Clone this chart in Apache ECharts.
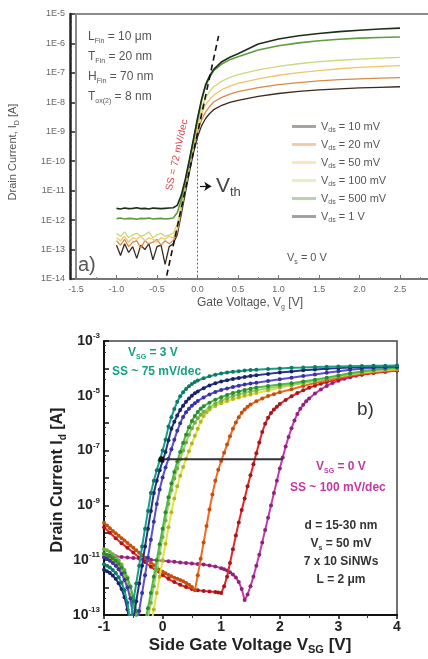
<!DOCTYPE html>
<html>
<head>
<meta charset="utf-8">
<script src="https://cdn.jsdelivr.net/npm/echarts@6/dist/echarts.min.js"></script>
<style>
  html, body { margin: 0; padding: 0; background: #ffffff; }
  #chart { width: 428px; height: 659px; }
</style>
</head>
<body>
<div id="chart"></div>
<script>
// ---------- (a) FinFET transfer characteristics, log10 of I_D [A] ----------
const gateV = [-1.0,-0.95,-0.9,-0.85,-0.8,-0.75,-0.7,-0.65,-0.6,-0.55,-0.5,-0.45,-0.4,-0.35,-0.3,
  -0.25,-0.2,-0.15,-0.1,-0.05,0,0.05,0.1,0.15,0.2,0.3,0.4,0.5,0.75,1.0,1.25,1.5,1.75,2.0,2.25,2.5];
const vdsNames = ['10 mV', '20 mV', '50 mV', '100 mV', '500 mV', '1 V'];
const vdsColors = ['#3a2a1c', '#d98a45', '#f2c46c', '#cbd87c', '#5f9c3e', '#1d2e1b'];
const logId10mV = [-12.85,-13.2,-12.8,-13.1,-12.9,-13.3,-12.85,-13.0,-12.8,-13.35,-12.9,-12.85,-13.5,-12.9,-12.8,
  -12.5,-11.8,-11.08,-10.38,-9.72,-9.18,-8.8,-8.55,-8.38,-8.25,-8.1,-8.0,-7.93,-7.8,-7.7,-7.63,-7.58,-7.54,-7.51,-7.49,-7.47];
const logId20mV = [-12.7,-12.85,-12.65,-12.9,-12.75,-12.7,-12.95,-12.7,-12.8,-12.75,-12.65,-12.85,-12.7,-12.8,-12.7,
  -12.4,-11.65,-10.95,-10.25,-9.58,-9.02,-8.6,-8.33,-8.14,-7.99,-7.83,-7.72,-7.64,-7.5,-7.4,-7.33,-7.27,-7.23,-7.2,-7.18,-7.16];
const logId50mV = [-12.6,-12.7,-12.55,-12.75,-12.6,-12.65,-12.55,-12.7,-12.6,-12.65,-12.75,-12.6,-12.65,-12.55,-12.6,
  -12.3,-11.55,-10.85,-10.15,-9.48,-8.85,-8.38,-8.08,-7.9,-7.76,-7.57,-7.45,-7.36,-7.2,-7.08,-6.99,-6.92,-6.86,-6.81,-6.78,-6.75];
const logId100mV = [-12.45,-12.55,-12.4,-12.6,-12.5,-12.45,-12.55,-12.5,-12.4,-12.6,-12.5,-12.45,-12.55,-12.5,-12.45,
  -12.15,-11.45,-10.78,-10.08,-9.4,-8.75,-8.2,-7.85,-7.63,-7.47,-7.28,-7.15,-7.06,-6.9,-6.78,-6.69,-6.62,-6.57,-6.53,-6.5,-6.47];
const logId500mV = [-11.95,-11.93,-11.96,-11.94,-11.95,-11.97,-11.94,-11.95,-11.93,-11.96,-11.95,-11.94,-11.96,-11.95,-11.93,
  -11.75,-11.3,-10.68,-10.0,-9.3,-8.6,-7.95,-7.45,-7.15,-6.92,-6.7,-6.55,-6.45,-6.22,-6.08,-5.98,-5.91,-5.86,-5.82,-5.8,-5.78];
const logId1V = [-11.6,-11.62,-11.59,-11.61,-11.6,-11.58,-11.61,-11.6,-11.62,-11.59,-11.6,-11.61,-11.6,-11.59,-11.58,
  -11.5,-11.15,-10.6,-9.95,-9.25,-8.55,-7.9,-7.4,-7.1,-6.88,-6.62,-6.47,-6.35,-6.02,-5.85,-5.74,-5.66,-5.6,-5.55,-5.51,-5.48];
const logIdByVds = [logId10mV, logId20mV, logId50mV, logId100mV, logId500mV, logId1V];
// subthreshold-slope guide line (SS = 72 mV/dec) and threshold marker
const ssGuide = [[-0.38, 1.3e-14], [0.26, 1.8e-6]];
const vthGuide = [[0, 1.5e-9], [0, 1e-14]];
const vthArrow = [[0.03, 1.4e-11], [0.17, 1.4e-11]];

// ---------- (b) side-gated SiNW transfer curves, [V_G, log10 I_d] ----------
const sgTeal = [[-1,-11.15],[-0.95,-11.2],[-0.9,-11.27],[-0.85,-11.36],[-0.8,-11.47],[-0.75,-11.62],[-0.7,-11.82],[-0.65,-12.1],[-0.6,-12.55],[-0.55,-13.3],
  [-0.5,-12.5],[-0.45,-11.85],[-0.4,-11.2],[-0.35,-10.5],[-0.3,-9.85],[-0.25,-9.2],[-0.2,-8.55],[-0.15,-8.1],[-0.1,-7.72],[-0.05,-7.36],
  [0,-7.0],[0.05,-6.6],[0.1,-6.12],[0.15,-5.78],[0.2,-5.48],[0.25,-5.22],[0.3,-5.02],[0.35,-4.87],[0.4,-4.75],[0.45,-4.65],[0.5,-4.57],
  [0.55,-4.5],[0.6,-4.44],[0.7,-4.36],[0.8,-4.29],[0.9,-4.23],[1.0,-4.19],[1.1,-4.15],[1.2,-4.12],[1.3,-4.1],[1.4,-4.08],[1.5,-4.06],
  [1.6,-4.05],[1.8,-4.02],[2.0,-4.0],[2.2,-3.98],[2.4,-3.97],[2.6,-3.95],[2.8,-3.94],[3.0,-3.93],[3.2,-3.92],[3.4,-3.91],[3.6,-3.9],[3.8,-3.9],[4.0,-3.89]];
const sgNavy = [[-1,-11.35],[-0.95,-11.4],[-0.9,-11.47],[-0.85,-11.56],[-0.8,-11.68],[-0.75,-11.84],[-0.7,-12.05],[-0.65,-12.35],[-0.6,-12.8],[-0.55,-13.5],
  [-0.5,-13.2],[-0.45,-12.5],[-0.4,-11.85],[-0.35,-11.2],[-0.3,-10.5],[-0.25,-9.85],[-0.2,-9.2],[-0.15,-8.55],[-0.1,-8.1],[-0.05,-7.72],
  [0,-7.38],[0.05,-7.05],[0.1,-6.62],[0.15,-6.2],[0.2,-5.95],[0.25,-5.72],[0.3,-5.52],[0.35,-5.36],[0.4,-5.22],[0.45,-5.1],[0.5,-5.0],
  [0.55,-4.91],[0.6,-4.84],[0.7,-4.72],[0.8,-4.62],[0.9,-4.54],[1.0,-4.48],[1.1,-4.43],[1.2,-4.39],[1.3,-4.35],[1.4,-4.31],[1.5,-4.28],
  [1.6,-4.25],[1.8,-4.2],[2.0,-4.15],[2.2,-4.11],[2.4,-4.07],[2.6,-4.04],[2.8,-4.01],[3.0,-3.99],[3.2,-3.97],[3.4,-3.95],[3.6,-3.94],[3.8,-3.93],[4.0,-3.92]];
const sgViolet = [[-1,-10.9],[-0.95,-10.95],[-0.9,-11.02],[-0.85,-11.1],[-0.8,-11.2],[-0.75,-11.33],[-0.7,-11.5],[-0.65,-11.72],[-0.6,-12.0],[-0.55,-12.4],
  [-0.5,-13.1],[-0.45,-13.6],[-0.4,-12.85],[-0.35,-12.2],[-0.3,-11.55],[-0.25,-10.9],[-0.2,-10.25],[-0.15,-9.6],[-0.1,-8.95],[-0.05,-8.42],
  [0,-7.98],[0.05,-7.62],[0.1,-7.3],[0.15,-6.95],[0.2,-6.6],[0.25,-6.28],[0.3,-6.0],[0.35,-5.77],[0.4,-5.6],[0.45,-5.47],[0.5,-5.36],
  [0.55,-5.27],[0.6,-5.19],[0.7,-5.06],[0.8,-4.95],[0.9,-4.86],[1.0,-4.79],[1.1,-4.73],[1.2,-4.68],[1.3,-4.63],[1.4,-4.59],[1.5,-4.55],
  [1.6,-4.52],[1.8,-4.46],[2.0,-4.4],[2.2,-4.34],[2.4,-4.28],[2.6,-4.22],[2.8,-4.16],[3.0,-4.1],[3.2,-4.05],[3.4,-4.01],[3.6,-3.98],[3.8,-3.96],[4.0,-3.94]];
const sgGreen = [[-1,-10.75],[-0.95,-10.8],[-0.9,-10.86],[-0.85,-10.93],[-0.8,-11.02],[-0.75,-11.13],[-0.7,-11.27],[-0.65,-11.45],[-0.6,-11.68],[-0.55,-11.98],
  [-0.5,-12.35],[-0.45,-12.85],[-0.4,-13.5],[-0.35,-13.6],[-0.3,-13.2],[-0.25,-12.75],[-0.2,-12.2],[-0.15,-11.6],[-0.1,-11.0],[-0.05,-10.42],
  [0,-9.85],[0.05,-9.25],[0.1,-8.7],[0.15,-8.2],[0.2,-7.78],[0.25,-7.4],[0.3,-7.05],[0.35,-6.72],[0.4,-6.42],[0.45,-6.15],[0.5,-5.92],
  [0.55,-5.74],[0.6,-5.59],[0.65,-5.47],[0.7,-5.38],[0.8,-5.25],[0.9,-5.14],[1.0,-5.05],[1.1,-4.97],[1.2,-4.9],[1.3,-4.84],[1.4,-4.79],[1.5,-4.74],
  [1.6,-4.7],[1.8,-4.64],[2.0,-4.59],[2.2,-4.54],[2.4,-4.48],[2.6,-4.41],[2.8,-4.34],[3.0,-4.26],[3.2,-4.18],[3.4,-4.11],[3.6,-4.05],[3.8,-4.01],[4.0,-3.98]];
const sgLightGreen = [[-1,-10.6],[-0.95,-10.64],[-0.9,-10.7],[-0.85,-10.78],[-0.8,-10.88],[-0.75,-11.0],[-0.7,-11.16],[-0.65,-11.36],[-0.6,-11.62],[-0.55,-11.95],
  [-0.5,-12.4],[-0.45,-13.0],[-0.4,-13.6],[-0.35,-13.7],[-0.3,-13.5],[-0.25,-13.1],[-0.2,-12.55],[-0.15,-11.95],[-0.1,-11.35],[-0.05,-10.75],
  [0,-10.15],[0.05,-9.55],[0.1,-8.95],[0.15,-8.45],[0.2,-8.02],[0.25,-7.65],[0.3,-7.32],[0.35,-7.0],[0.4,-6.7],[0.45,-6.42],[0.5,-6.18],
  [0.55,-5.98],[0.6,-5.82],[0.65,-5.69],[0.7,-5.58],[0.8,-5.42],[0.9,-5.29],[1.0,-5.18],[1.1,-5.09],[1.2,-5.01],[1.3,-4.95],[1.4,-4.89],[1.5,-4.84],
  [1.6,-4.8],[1.8,-4.72],[2.0,-4.66],[2.2,-4.6],[2.4,-4.53],[2.6,-4.46],[2.8,-4.38],[3.0,-4.3],[3.2,-4.22],[3.4,-4.14],[3.6,-4.08],[3.8,-4.03],[4.0,-4.0]];
const sgYellow = [[-1,-10.8],[-0.95,-10.85],[-0.9,-10.92],[-0.85,-11.0],[-0.8,-11.1],[-0.75,-11.23],[-0.7,-11.4],[-0.65,-11.62],[-0.6,-11.9],[-0.55,-12.25],
  [-0.5,-12.7],[-0.45,-13.3],[-0.4,-13.8],[-0.3,-13.8],[-0.25,-13.6],[-0.2,-13.4],[-0.15,-12.8],[-0.1,-12.2],[-0.05,-11.6],
  [0,-11.0],[0.05,-10.4],[0.1,-9.8],[0.15,-9.25],[0.2,-8.75],[0.25,-8.3],[0.3,-7.92],[0.35,-7.6],[0.4,-7.3],[0.45,-7.02],[0.5,-6.74],
  [0.55,-6.46],[0.6,-6.2],[0.65,-5.95],[0.7,-5.74],[0.75,-5.6],[0.8,-5.5],[0.9,-5.37],[1.0,-5.27],[1.1,-5.19],[1.2,-5.12],[1.3,-5.06],[1.4,-5.0],[1.5,-4.95],
  [1.6,-4.9],[1.8,-4.81],[2.0,-4.71],[2.2,-4.62],[2.4,-4.53],[2.6,-4.44],[2.8,-4.36],[3.0,-4.28],[3.2,-4.21],[3.4,-4.15],[3.6,-4.1],[3.8,-4.06],[4.0,-4.03]];
const sgOrange = [[-1,-9.63],[-0.95,-9.73],[-0.9,-9.83],[-0.85,-9.93],[-0.8,-10.02],[-0.75,-10.11],[-0.7,-10.2],[-0.65,-10.28],[-0.6,-10.37],[-0.55,-10.46],
  [-0.5,-10.55],[-0.45,-10.64],[-0.4,-10.73],[-0.35,-10.82],[-0.3,-10.91],[-0.25,-11.0],[-0.2,-11.09],[-0.15,-11.18],[-0.1,-11.27],[-0.05,-11.35],
  [0,-11.42],[0.05,-11.48],[0.1,-11.54],[0.15,-11.59],[0.2,-11.64],[0.25,-11.68],[0.3,-11.72],[0.35,-11.77],[0.4,-11.83],[0.45,-11.9],[0.5,-11.98],
  [0.55,-12.1],[0.6,-11.55],[0.65,-10.95],[0.7,-10.35],[0.75,-9.75],[0.8,-9.15],[0.85,-8.6],[0.9,-8.1],[0.95,-7.7],[1.0,-7.38],
  [1.05,-7.08],[1.1,-6.78],[1.15,-6.48],[1.2,-6.2],[1.25,-5.97],[1.3,-5.78],[1.35,-5.62],[1.4,-5.5],[1.45,-5.4],[1.5,-5.32],
  [1.6,-5.2],[1.7,-5.1],[1.8,-5.01],[1.9,-4.94],[2.0,-4.87],[2.2,-4.76],[2.4,-4.64],[2.6,-4.53],[2.8,-4.43],[3.0,-4.34],[3.2,-4.26],[3.4,-4.19],[3.6,-4.13],[3.8,-4.09],[4.0,-4.05]];
const sgRed = [[-1,-9.8],[-0.9,-10.0],[-0.8,-10.2],[-0.7,-10.38],[-0.6,-10.55],[-0.5,-10.72],[-0.4,-10.9],[-0.3,-11.07],[-0.2,-11.24],[-0.1,-11.4],
  [0,-11.55],[0.1,-11.68],[0.2,-11.8],[0.3,-11.9],[0.4,-11.98],[0.5,-12.05],[0.6,-12.1],[0.7,-12.12],[0.8,-12.14],[0.9,-12.16],[0.95,-12.18],[1.0,-12.2],
  [1.05,-11.95],[1.1,-11.6],[1.15,-11.1],[1.2,-10.6],[1.25,-10.1],[1.3,-9.62],[1.35,-9.17],[1.4,-8.75],[1.45,-8.3],[1.5,-7.9],
  [1.55,-7.5],[1.6,-7.1],[1.65,-6.7],[1.7,-6.32],[1.75,-6.02],[1.8,-5.8],[1.85,-5.63],[1.9,-5.5],[1.95,-5.4],[2.0,-5.3],
  [2.1,-5.15],[2.2,-5.02],[2.3,-4.9],[2.4,-4.8],[2.5,-4.71],[2.6,-4.63],[2.7,-4.56],[2.8,-4.5],[3.0,-4.39],[3.2,-4.3],[3.4,-4.23],[3.6,-4.17],[3.8,-4.12],[4.0,-4.08]];
const sgMagenta = [[-1,-10.82],[-0.9,-10.84],[-0.8,-10.86],[-0.7,-10.88],[-0.6,-10.9],[-0.5,-10.92],[-0.4,-10.94],[-0.3,-10.96],[-0.2,-10.98],[-0.1,-11.0],
  [0,-11.02],[0.1,-11.04],[0.2,-11.06],[0.3,-11.08],[0.4,-11.1],[0.5,-11.12],[0.6,-11.14],[0.7,-11.16],[0.8,-11.19],[0.9,-11.23],
  [1.0,-11.29],[1.05,-11.33],[1.1,-11.38],[1.15,-11.44],[1.2,-11.52],[1.25,-11.63],[1.3,-11.8],[1.35,-12.05],[1.4,-12.45],[1.45,-12.25],
  [1.5,-11.95],[1.55,-11.6],[1.6,-11.2],[1.65,-10.8],[1.7,-10.35],[1.75,-9.9],[1.8,-9.45],[1.85,-9.0],[1.9,-8.55],[1.95,-8.1],
  [2.0,-7.65],[2.05,-7.25],[2.1,-6.85],[2.15,-6.5],[2.2,-6.18],[2.25,-5.9],[2.3,-5.66],[2.35,-5.47],[2.4,-5.33],[2.45,-5.2],[2.5,-5.1],
  [2.6,-4.92],[2.7,-4.77],[2.8,-4.64],[2.9,-4.53],[3.0,-4.45],[3.1,-4.38],[3.2,-4.32],[3.3,-4.27],[3.4,-4.22],[3.5,-4.18],[3.6,-4.15],[3.8,-4.11],[4.0,-4.08]];
// drawn back to front: V_SG = 0 V (magenta) ... V_SG = 3 V (teal)
const sgCurves = [sgMagenta, sgRed, sgOrange, sgYellow, sgLightGreen, sgGreen, sgViolet, sgNavy, sgTeal];
const sgLineColors = ['#c43aa8', '#e5262d', '#f36b21', '#e3e33e', '#9bd36a', '#4fb848', '#5a4fcf', '#27348b', '#16a085'];
const sgDotColors  = ['#8e2378', '#a8151a', '#c44f10', '#b5b51c', '#6fae45', '#2f8a2c', '#3b32a0', '#1a2366', '#0e7a66'];
// threshold shift marker at constant current
const shiftLine = [[-0.02, 4.8e-8], [2.05, 4.8e-8]];

const toAmps = v => Math.pow(10, v);

const chart = echarts.init(document.getElementById('chart'), null, { renderer: 'canvas' });

const fontA = '"Liberation Sans", Arial, sans-serif';

const seriesA = vdsNames.map((name, k) => ({
  name: name,
  type: 'line',
  xAxisIndex: 0, yAxisIndex: 0,
  data: gateV.map((v, i) => [v, toAmps(logIdByVds[k][i])]),
  symbol: 'circle', symbolSize: 3, showSymbol: false,
  lineStyle: { color: vdsColors[k], width: k >= 4 ? 1.6 : 1.3 },
  itemStyle: { color: vdsColors[k] },
  z: 3 + k,
  animation: false
}));

seriesA.push({
  type: 'line', xAxisIndex: 0, yAxisIndex: 0,
  data: ssGuide, symbol: 'none',
  lineStyle: { color: '#111', width: 1.6, type: [6, 4] },
  z: 12, animation: false,
  markLine: {
    silent: true, symbol: ['none', 'arrow'], symbolSize: 7,
    label: { show: false },
    lineStyle: { color: '#111', width: 1.2, type: 'solid' },
    data: [[{ coord: vthArrow[0] }, { coord: vthArrow[1] }]],
    animation: false
  }
});
seriesA.push({
  type: 'line', xAxisIndex: 0, yAxisIndex: 0,
  data: vthGuide, symbol: 'none',
  lineStyle: { color: '#666', width: 1, type: [2, 2] },
  z: 2, animation: false
});

const seriesB = sgCurves.map((curve, k) => ({
  type: 'line',
  xAxisIndex: 1, yAxisIndex: 1,
  data: curve.map(p => [p[0], toAmps(p[1])]),
  symbol: 'circle', symbolSize: 4, showSymbol: true,
  lineStyle: { color: sgLineColors[k], width: 2 },
  itemStyle: { color: sgDotColors[k], borderWidth: 0 },
  z: 3 + k,
  animation: false
}));
seriesB.push({
  type: 'line', xAxisIndex: 1, yAxisIndex: 1,
  data: [
    { value: shiftLine[0], symbol: 'circle', symbolSize: 6 },
    { value: shiftLine[1], symbol: 'none' }
  ],
  showSymbol: true,
  lineStyle: { color: '#333', width: 2 },
  itemStyle: { color: '#111' },
  z: 20, animation: false
});

const subRich = (size, color, bold) => ({
  n: { fontSize: size, color: color, fontFamily: fontA, fontWeight: bold ? 'bold' : 'normal', lineHeight: size + 4 },
  s: { fontSize: Math.round(size * 0.62), color: color, fontFamily: fontA, fontWeight: bold ? 'bold' : 'normal', verticalAlign: 'bottom', lineHeight: size + 4 }
});

function label(x, y, text, size, color, opts) {
  opts = opts || {};
  return {
    type: 'text', x: x, y: y, rotation: opts.rotation || 0, z: 50,
    style: {
      text: text, rich: subRich(size, color, opts.bold),
      fontSize: size, fontFamily: fontA, fill: color,
      fontWeight: opts.bold ? 'bold' : 'normal',
      align: opts.align || 'left', verticalAlign: 'middle'
    }
  };
}

const option = {
  backgroundColor: '#ffffff',
  animation: false,
  grid: [
    { left: 76, top: 14, width: 364.5, height: 265, show: true, borderColor: '#8a8a8a', borderWidth: 2,
      backgroundColor: 'transparent', outerBoundsMode: 'none', containLabel: false },
    { left: 104, top: 341, width: 293, height: 274, show: true, borderColor: '#444', borderWidth: 1.5,
      backgroundColor: 'transparent', outerBoundsMode: 'none', containLabel: false }
  ],
  xAxis: [
    {
      gridIndex: 0, type: 'value', min: -1.5, max: 3.0, interval: 0.5,
      axisLine: { show: true, onZero: false, lineStyle: { color: '#777', width: 2 } },
      axisTick: { show: true, inside: true, length: 4, lineStyle: { color: '#777' } },
      minorTick: { show: true, splitNumber: 2, length: 2, lineStyle: { color: '#888' } },
      axisLabel: { color: '#666', fontSize: 9, fontFamily: fontA, margin: 6, formatter: v => v.toFixed(1) },
      splitLine: { show: false }
    },
    {
      gridIndex: 1, type: 'value', min: -1, max: 4, interval: 1,
      axisLine: { show: true, onZero: false, lineStyle: { color: '#111', width: 2 } },
      axisTick: { show: true, inside: false, length: 4, lineStyle: { color: '#111', width: 1.5 } },
      minorTick: { show: true, splitNumber: 2, length: 3, lineStyle: { color: '#333' } },
      axisLabel: { color: '#222', fontSize: 14, fontWeight: 'bold', fontFamily: fontA, margin: 5 },
      splitLine: { show: false }
    }
  ],
  yAxis: [
    {
      gridIndex: 0, type: 'log', logBase: 10, min: 1e-14, max: 1e-5, splitNumber: 9, offset: 6,
      axisLine: { show: true, onZero: false, lineStyle: { color: '#222', width: 2.5 } },
      axisTick: { show: true, inside: true, length: 5, lineStyle: { color: '#222', width: 1.5 } },
      minorTick: { show: true, splitNumber: 4, length: 2, lineStyle: { color: '#333' } },
      axisLabel: { color: '#666', fontSize: 9, fontFamily: fontA, margin: 5,
        formatter: v => '1E' + Math.round(Math.log10(v)) },
      splitLine: { show: false }
    },
    {
      gridIndex: 1, type: 'log', logBase: 10, min: 1e-13, max: 1e-3, splitNumber: 10,
      axisLine: { show: true, onZero: false, lineStyle: { color: '#111', width: 2 } },
      axisTick: { show: true, inside: true, length: 5, lineStyle: { color: '#111', width: 1.5 } },
      minorTick: { show: true, splitNumber: 3, length: 2, lineStyle: { color: '#333' } },
      axisLabel: {
        margin: 4, fontFamily: fontA,
        formatter: v => {
          const e = Math.round(Math.log10(v));
          return (e % 2 !== 0) ? '{b|10}{e|' + e + '}' : '';
        },
        rich: {
          b: { fontSize: 14, fontWeight: 'bold', color: '#222', fontFamily: fontA, lineHeight: 18 },
          e: { fontSize: 8, fontWeight: 'bold', color: '#222', fontFamily: fontA, verticalAlign: 'top', lineHeight: 18 }
        }
      },
      splitLine: { show: false }
    }
  ],
  legend: {
    data: vdsNames,
    left: 287, top: 116, orient: 'vertical',
    itemGap: 5, itemWidth: 24, itemHeight: 14,
    icon: 'path://M0,6.4 L10,6.4 L10,7.6 L0,7.6 Z',
    itemStyle: { opacity: 0.45 },
    textStyle: { color: '#555', fontSize: 11, fontFamily: fontA, rich: subRich(11, '#555', false) },
    formatter: name => '{n|V}{s|ds}{n| = ' + name + '}',
    inactiveColor: '#ccc'
  },
  series: seriesA.concat(seriesB),
  graphic: [
    // panel (a) annotations
    label(88, 37, '{n|L}{s|Fin}{n| = 10 μm}', 12, '#555'),
    label(88, 57, '{n|T}{s|Fin}{n| = 20 nm}', 12, '#555'),
    label(88, 77, '{n|H}{s|Fin}{n| = 70 nm}', 12, '#555'),
    label(88, 97, '{n|T}{s|ox(2)}{n| = 8 nm}', 12, '#555'),
    label(177, 155, 'SS = 72 mV/dec', 10, '#e0424a', { align: 'center', rotation: 1.35 }),
    label(216, 186, '{n|V}{s|th}', 21, '#444'),
    label(78, 265, 'a)', 20, '#555'),
    label(287, 258, '{n|V}{s|s}{n| = 0 V}', 11, '#555'),
    label(13, 152, '{n|Drain Current, I}{s|D}{n| [A]}', 11, '#555', { align: 'center', rotation: Math.PI / 2 }),
    label(250, 303, '{n|Gate Voltage, V}{s|g}{n| [V]}', 12, '#555', { align: 'center' }),
    // panel (b) annotations
    label(128, 353, '{n|V}{s|SG}{n| = 3 V}', 12, '#18a084', { bold: true }),
    label(112, 372, 'SS ~ 75 mV/dec', 12, '#18a084', { bold: true }),
    label(357, 410, 'b)', 19, '#333'),
    label(316, 467, '{n|V}{s|SG}{n| = 0 V}', 12, '#c2399f', { bold: true }),
    label(290, 488, 'SS ~ 100 mV/dec', 12, '#c2399f', { bold: true }),
    label(341, 526, 'd = 15-30 nm', 12, '#333', { bold: true, align: 'center' }),
    label(341, 544, '{n|V}{s|s}{n| = 50 mV}', 12, '#333', { bold: true, align: 'center' }),
    label(341, 562, '7 x 10 SiNWs', 12, '#333', { bold: true, align: 'center' }),
    label(341, 580, 'L = 2 μm', 12, '#333', { bold: true, align: 'center' }),
    label(58, 480, '{n|Drain Current I}{s|d}{n| [A]}', 16, '#222', { bold: true, align: 'center', rotation: Math.PI / 2 }),
    label(250, 645, '{n|Side Gate Voltage V}{s|SG}{n| [V]}', 17, '#222', { bold: true, align: 'center' })
  ]
};

chart.setOption(option);
</script>
</body>
</html>
